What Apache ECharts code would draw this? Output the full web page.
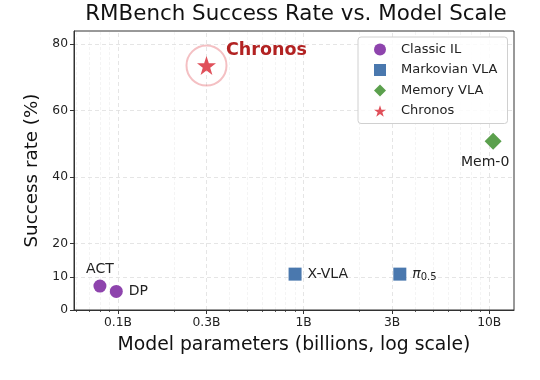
<!DOCTYPE html>
<html>
<head>
<meta charset="utf-8">
<script src="https://cdn.jsdelivr.net/npm/echarts@6/dist/echarts.min.js"></script>
<style>html,body{margin:0;padding:0;background:#fff;}#c{width:540px;height:380px;}</style>
</head>
<body>
<div id="c"></div>
<script>
// ---- data ----
const classicNames = ['ACT', 'DP'];
const classicParams = [0.08, 0.098];
const classicSuccess = [7.2, 5.6];

const markovNames = ['X-VLA', 'π0.5'];
const markovParams = [0.9, 3.3];
const markovSuccess = [10.8, 10.8];

const memoryNames = ['Mem-0'];
const memoryParams = [10.5];
const memorySuccess = [50.8];

const chronosNames = ['Chronos'];
const chronosParams = [0.3];
const chronosSuccess = [73.6];

const xMajorTicks = [0.1, 0.3, 1, 3, 10];
const xTickLabels = ['0.1B', '0.3B', '1B', '3B', '10B'];
const xMinorTicks = [0.06, 0.07, 0.08, 0.09, 0.2, 0.4, 0.5, 0.6, 0.7, 0.8, 0.9, 2, 4, 5, 6, 7, 8, 9];
const yTicks = [0, 10, 20, 40, 60, 80];

const legendNames = ['Classic IL', 'Markovian VLA', 'Memory VLA', 'Chronos'];
const colors = ['#8E44AD', '#4A78AE', '#5BA04D', '#E0505A'];

const STAR = 'path://M50,2 L61.8,36.2 L97.6,36.2 L68.6,57.4 L79.6,91.8 L50,70.6 L20.4,91.8 L31.4,57.4 L2.4,36.2 L38.2,36.2 Z';
const FONT = 'DejaVu Sans';

function pts(names, xs, ys) {
  return names.map((n, i) => ({ name: n, value: [xs[i], ys[i]] }));
}

const labelBase = { show: true, color: '#222', fontFamily: FONT, fontSize: 14, textBorderWidth: 0, formatter: p => p.name };

const classicData = pts(classicNames, classicParams, classicSuccess);
classicData[0].label = Object.assign({}, labelBase, { position: 'top', distance: 3 });
classicData[1].label = Object.assign({}, labelBase, { position: 'right', distance: 6 });

const markovData = pts(markovNames, markovParams, markovSuccess);
markovData[0].label = Object.assign({}, labelBase, { position: 'right', distance: 6 });
markovData[1].label = Object.assign({}, labelBase, {
  position: 'right', distance: 6,
  formatter: '{pi|π}{sub|0.5}',
  rich: {
    pi: { fontFamily: FONT, fontSize: 14, fontStyle: 'italic', color: '#222' },
    sub: { fontFamily: FONT, fontSize: 10, color: '#222', padding: [6, 0, 0, 0] }
  }
});

const memoryData = pts(memoryNames, memoryParams, memorySuccess);
memoryData[0].label = Object.assign({}, labelBase, { position: 'bottom', distance: 6, offset: [-8, 0] });

const chronosData = pts(chronosNames, chronosParams, chronosSuccess);
chronosData[0].label = {
  show: true, position: 'right', distance: 0, offset: [10, -15],
  color: '#B22222', fontFamily: FONT, fontSize: 17.5, fontWeight: 'bold', textBorderWidth: 0,
  formatter: p => p.name
};

const gridLines = [];
xMinorTicks.forEach(v => gridLines.push({ xAxis: v, lineStyle: { color: '#f1f1f1', type: [3, 2], width: 0.8 } }));
xMajorTicks.forEach(v => gridLines.push({ xAxis: v, lineStyle: { color: '#dedede', type: [4, 3], width: 0.8 } }));
yTicks.slice(1).forEach(v => gridLines.push({ yAxis: v, lineStyle: { color: '#dedede', type: [4, 3], width: 0.8 } }));

const option = {
  animation: false,
  backgroundColor: '#fff',
  title: {
    text: 'RMBench Success Rate vs. Model Scale',
    left: 291, top: -1, textAlign: 'center',
    textStyle: { fontFamily: FONT, fontSize: 21.4, fontWeight: 'normal', color: '#111' }
  },
  grid: { left: 74, right: 26, top: 31, bottom: 70, show: true, borderColor: '#333', borderWidth: 1, backgroundColor: 'transparent', z: 4 },
  legend: {
    orient: 'vertical', left: 358, top: 37,
    data: legendNames.map((n, i) => ({ name: n, icon: ['circle', 'rect', 'diamond', STAR][i] })),
    itemWidth: 12, itemHeight: 12, itemGap: 7.5,
    padding: [6, 10, 6, 16],
    backgroundColor: 'rgba(255,255,255,0.85)', borderColor: '#d0d0d0', borderWidth: 1, borderRadius: 3,
    textStyle: { fontFamily: FONT, fontSize: 13, color: '#222', padding: [0, 0, 0, 10] }
  },
  xAxis: [{
    type: 'log', logBase: 10, min: 0.058, max: 13.6,
    name: 'Model parameters (billions, log scale)', nameLocation: 'middle', nameGap: 26,
    nameTextStyle: { fontFamily: FONT, fontSize: 18.8, color: '#111' },
    axisLine: { show: true, lineStyle: { color: '#333', width: 1 } },
    axisTick: { show: true, length: 4, lineStyle: { color: '#333' }, customValues: xMajorTicks },
    axisLabel: {
      fontFamily: FONT, fontSize: 12.3, color: '#222', margin: 7, customValues: xMajorTicks,
      formatter: v => { const i = xMajorTicks.findIndex(t => Math.abs(t - v) < 1e-9); return i >= 0 ? xTickLabels[i] : ''; }
    },
    splitLine: { show: false }, minorTick: { show: false }
  }, {
    type: 'log', logBase: 10, min: 0.058, max: 13.6, position: 'bottom',
    axisLine: { show: false },
    axisTick: { show: true, length: 2, lineStyle: { color: '#333', width: 0.8 }, customValues: xMinorTicks },
    axisLabel: { show: false }, splitLine: { show: false }
  }],
  yAxis: {
    type: 'value', min: 0, max: 84, interval: 10,
    name: 'Success rate (%)', nameLocation: 'middle', nameGap: 24,
    nameTextStyle: { fontFamily: FONT, fontSize: 18.3, color: '#111' },
    axisLine: { show: true, lineStyle: { color: '#333', width: 1 } },
    axisTick: { show: true, length: 4, lineStyle: { color: '#333' }, customValues: yTicks },
    axisLabel: { fontFamily: FONT, fontSize: 12.3, color: '#222', margin: 6, customValues: yTicks },
    splitLine: { show: false }
  },
  series: [
    {
      name: 'grid', type: 'scatter', data: [], silent: true, z: 0,
      markLine: { silent: true, z: 0, symbol: 'none', label: { show: false }, data: gridLines, animation: false }
    },
    {
      name: 'ring', type: 'scatter', symbol: 'circle', symbolSize: 40, z: 2, silent: true,
      itemStyle: { color: 'rgba(0,0,0,0)', borderColor: 'rgba(224,80,90,0.45)', borderWidth: 2 },
      data: chronosParams.map((x, i) => [x, chronosSuccess[i]])
    },
    { name: legendNames[0], type: 'scatter', symbol: 'circle', symbolSize: 13, z: 3, itemStyle: { color: colors[0], opacity: 1 }, data: classicData },
    { name: legendNames[1], type: 'scatter', symbol: 'rect', symbolSize: 13, z: 3, itemStyle: { color: colors[1], opacity: 1 }, data: markovData },
    { name: legendNames[2], type: 'scatter', symbol: 'diamond', symbolSize: 17, z: 3, itemStyle: { color: colors[2], opacity: 1 }, data: memoryData },
    { name: legendNames[3], type: 'scatter', symbol: STAR, symbolSize: 19, z: 3, itemStyle: { color: colors[3], opacity: 1 }, data: chronosData }
  ]
};

echarts.init(document.getElementById('c'), null, { renderer: 'canvas' }).setOption(option);
</script>
</body>
</html>
